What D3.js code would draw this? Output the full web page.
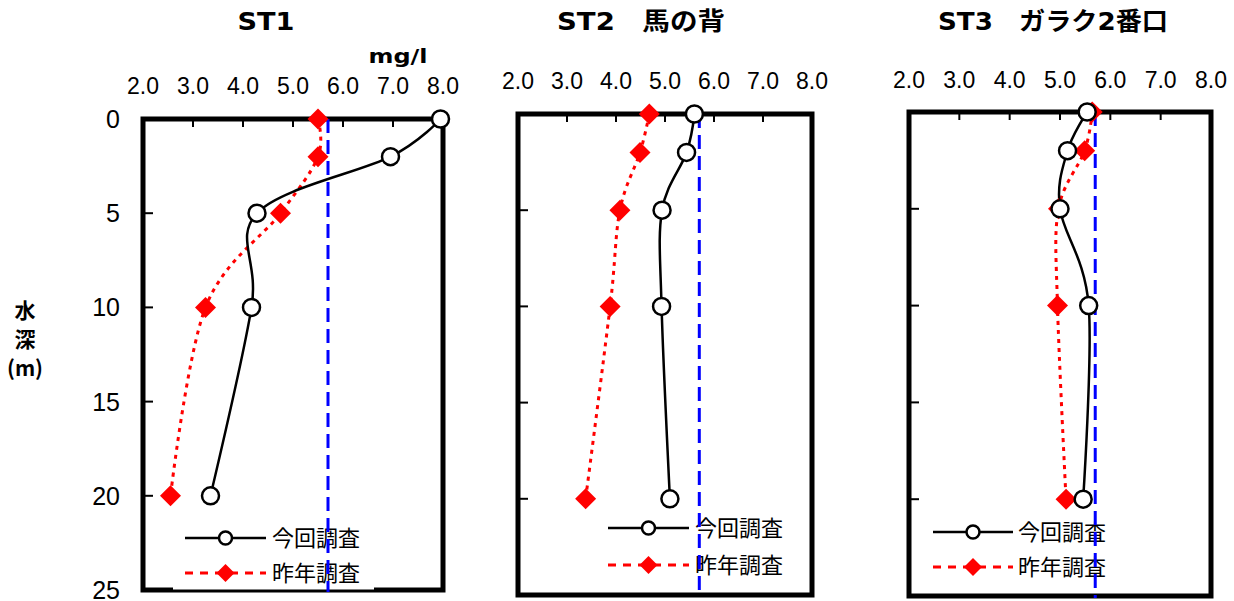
<!DOCTYPE html>
<html>
<head>
<meta charset="utf-8">
<script src="https://cdn.jsdelivr.net/npm/d3@7"></script>
<style>
  body { margin: 0; background: #fff; }
  svg { display: block; }
</style>
</head>
<body>
<div id="chart"></div>
<script>
// depth profiles (m) vs DO (mg/l)
const depths = [0, 2, 5, 10, 20];
const st1Now = [7.95, 6.95, 4.28, 4.17, 3.35];
const st1Prev = [5.5, 5.5, 4.75, 3.25, 2.55];
const st2Now = [5.6, 5.44, 4.94, 4.93, 5.1];
const st2Prev = [4.68, 4.49, 4.08, 3.88, 3.38];
const st3Now = [5.54, 5.15, 5.0, 5.57, 5.46];
const st3Prev = [5.64, 5.49, 4.97, 4.95, 5.12];
const titles = ['ST1', 'ST2\u3000馬の背', 'ST3\u3000ガラク2番口'];
const seriesNames = ['今回調査', '昨年調査'];
const standardValue = 5.7;
const xTicks = [2, 3, 4, 5, 6, 7, 8];
const yTicks = [0, 5, 10, 15, 20, 25];

const W = 1234, H = 601;
const latin = '"Liberation Sans", Arial, sans-serif';
const boldFont = '"DejaVu Sans", "Noto Sans CJK JP", sans-serif';
const jp = '"Noto Sans CJK JP", sans-serif';

const layout = [
  { now: st1Now, prev: st1Prev, x: [143, 443], y: [119, 590], tickY: 94, titleX: 266, titleW: 57,
    leg: { x1: 185, x2: 266, y1: 538, y2: 573, tx: 272 }, yLabels: true, cover: [173, 374] },
  { now: st2Now, prev: st2Prev, x: [518, 812], y: [114, 595], tickY: 89, titleX: 641, titleW: 168,
    leg: { x1: 608, x2: 689, y1: 528, y2: 565, tx: 695 } },
  { now: st3Now, prev: st3Prev, x: [909, 1211], y: [112, 596], tickY: 88, titleX: 1053, titleW: 230,
    leg: { x1: 933, x2: 1013, y1: 532, y2: 567, tx: 1018 } }
];

const svg = d3.select('#chart').append('svg').attr('width', W).attr('height', H);

const diamond = (s) => `M0,${-s}L${s},0L0,${s}L${-s},0Z`;

layout.forEach((p, i) => {
  const x = d3.scaleLinear().domain([2, 8]).range(p.x);
  const y = d3.scaleLinear().domain([0, 25]).range(p.y);
  const g = svg.append('g');

  // title
  g.append('text')
    .attr('x', p.titleX).attr('y', 30)
    .attr('text-anchor', 'middle')
    .attr('font-family', boldFont).attr('font-weight', 'bold').attr('font-size', 25)
    .attr('textLength', p.titleW).attr('lengthAdjust', 'spacingAndGlyphs')
    .text(titles[i]);

  // top axis labels
  g.selectAll('.xl').data(xTicks).enter().append('text')
    .attr('x', d => x(d)).attr('y', p.tickY)
    .attr('text-anchor', 'middle')
    .attr('font-family', latin).attr('font-size', 23)
    .text(d => d3.format('.1f')(d));

  // inner ticks
  g.selectAll('.xt').data(xTicks.slice(1, -1)).enter().append('line')
    .attr('x1', d => x(d)).attr('x2', d => x(d))
    .attr('y1', p.y[0]).attr('y2', p.y[0] + 8)
    .attr('stroke', '#000').attr('stroke-width', 2);
  g.selectAll('.yt').data(yTicks.slice(1, -1)).enter().append('line')
    .attr('x1', p.x[0]).attr('x2', p.x[0] + 10)
    .attr('y1', d => y(d)).attr('y2', d => y(d))
    .attr('stroke', '#000').attr('stroke-width', 2);

  if (p.yLabels) {
    g.selectAll('.yl').data(yTicks).enter().append('text')
      .attr('x', 120).attr('y', d => y(d))
      .attr('dy', '0.36em')
      .attr('text-anchor', 'end')
      .attr('font-family', latin).attr('font-size', 25)
      .text(d => d);
  }

  // frame
  g.append('rect')
    .attr('x', p.x[0]).attr('y', p.y[0])
    .attr('width', p.x[1] - p.x[0]).attr('height', p.y[1] - p.y[0])
    .attr('fill', 'none').attr('stroke', '#000').attr('stroke-width', 5);

  if (p.cover) {
    g.append('rect')
      .attr('x', p.cover[0]).attr('y', 512)
      .attr('width', p.cover[1] - p.cover[0]).attr('height', p.y[1] - 512 - 0.5)
      .attr('fill', '#fff');
  }

  // legend text
  const L = p.leg;
  [L.y1, L.y2].forEach((ly, k) => {
    g.append('text')
      .attr('x', L.tx).attr('y', ly)
      .attr('dy', '0.36em')
      .attr('font-family', jp).attr('font-size', 22)
      .text(seriesNames[k]);
  });

  // standard line
  g.append('line')
    .attr('x1', x(standardValue)).attr('x2', x(standardValue))
    .attr('y1', p.y[0]).attr('y2', p.y[1] + 2)
    .attr('stroke', '#0000ff').attr('stroke-width', 3)
    .attr('stroke-dasharray', '14,7');

  const line = d3.line()
    .x(d => x(d[0])).y(d => y(d[1]))
    .curve(d3.curveCatmullRom.alpha(0));

  const prevPts = p.prev.map((v, k) => [v, depths[k]]);
  const nowPts = p.now.map((v, k) => [v, depths[k]]);

  g.append('path').attr('d', line(prevPts))
    .attr('fill', 'none').attr('stroke', '#ff0000').attr('stroke-width', 3)
    .attr('stroke-dasharray', '4,5');
  g.append('path').attr('d', line(nowPts))
    .attr('fill', 'none').attr('stroke', '#000').attr('stroke-width', 2.5);

  g.selectAll('.pm').data(prevPts).enter().append('path')
    .attr('transform', d => `translate(${x(d[0])},${y(d[1])})`)
    .attr('d', diamond(10.5)).attr('fill', '#ff0000');
  g.selectAll('.nm').data(nowPts).enter().append('circle')
    .attr('cx', d => x(d[0])).attr('cy', d => y(d[1]))
    .attr('r', 8.5).attr('fill', '#fff').attr('stroke', '#000').attr('stroke-width', 2.5);

  // legend symbols
  const lm = (L.x1 + L.x2) / 2;
  g.append('line').attr('x1', L.x1).attr('x2', L.x2).attr('y1', L.y1).attr('y2', L.y1)
    .attr('stroke', '#000').attr('stroke-width', 2.5);
  g.append('circle').attr('cx', lm).attr('cy', L.y1).attr('r', 6.5)
    .attr('fill', '#fff').attr('stroke', '#000').attr('stroke-width', 2.5);
  g.append('line').attr('x1', L.x1).attr('x2', L.x2).attr('y1', L.y2).attr('y2', L.y2)
    .attr('stroke', '#ff0000').attr('stroke-width', 3).attr('stroke-dasharray', '8,7');
  g.append('path').attr('transform', `translate(${lm},${L.y2})`)
    .attr('d', diamond(9)).attr('fill', '#ff0000');
});

// unit label
svg.append('text')
  .attr('x', 398).attr('y', 63)
  .attr('text-anchor', 'middle')
  .attr('font-family', boldFont).attr('font-weight', 'bold').attr('font-size', 20)
  .attr('textLength', 59).attr('lengthAdjust', 'spacingAndGlyphs')
  .text('mg/l');

// depth axis title
const yTitle = svg.append('text')
  .attr('font-family', jp).attr('font-weight', 'bold').attr('font-size', 21)
  .attr('text-anchor', 'middle');
['水', '深', '(m)'].forEach((t, k) => {
  yTitle.append('tspan').attr('x', 25).attr('y', 318 + k * 29).text(t);
});
</script>
</body>
</html>
